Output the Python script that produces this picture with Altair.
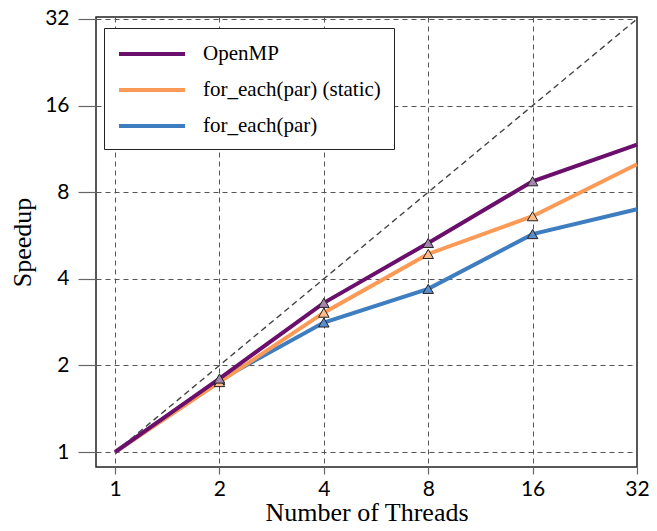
import altair as alt
import pandas as pd

threads = [1, 2, 4, 8, 16, 32]
series_names = ["OpenMP", "for_each(par) (static)", "for_each(par)"]
openmp = [1.0, 1.80, 3.30, 5.33, 8.73, 11.7]
static = [1.0, 1.75, 3.05, 4.88, 6.6, 10.0]
par = [1.0, 1.78, 2.82, 3.69, 5.72, 6.98]
ideal_x = [1, 32]
ideal_y = [1, 32]
tick_values = [1, 2, 4, 8, 16, 32]

line_colors = ["#6a0f6c", "#fb9a56", "#3f7dc1"]
marker_fills = ["#a585ab", "#fbbd8c", "#5b8fcb"]

rows = []
for name, vals in [("for_each(par)", par), ("for_each(par) (static)", static), ("OpenMP", openmp)]:
    for t, v in zip(threads, vals):
        rows.append({"series": name, "threads": t, "speedup": v})
df = pd.DataFrame(rows)
ideal = pd.DataFrame({"threads": ideal_x, "speedup": ideal_y})

xscale = alt.Scale(type="log", base=2, domain=[0.881, 32], nice=False, zero=False)
yscale = alt.Scale(type="log", base=2, domain=[0.887, 32.51], nice=False, zero=False)

xaxis = alt.Axis(values=tick_values, format="d", title="Number of Threads",
                 tickSize=7, labelPadding=4, titlePadding=0,
                 labelFlush=False, labelOverlap=False, labelBound=False)
yaxis = alt.Axis(values=tick_values, format="d", title="Speedup",
                 tickSize=18, labelPadding=9, titlePadding=9,
                 labelFlush=False, labelOverlap=False, labelBound=False)

diag = alt.Chart(ideal).mark_line(color="#444", strokeWidth=1.4, strokeDash=[6, 4]).encode(
    x=alt.X("threads:Q", scale=xscale, axis=xaxis),
    y=alt.Y("speedup:Q", scale=yscale, axis=yaxis),
)

lines = alt.Chart(df).mark_line(strokeWidth=4).encode(
    x=alt.X("threads:Q", scale=xscale),
    y=alt.Y("speedup:Q", scale=yscale),
    color=alt.Color("series:N", scale=alt.Scale(domain=series_names, range=line_colors),
                    legend=alt.Legend(title=None, orient="none", legendX=8, legendY=11,
                                      symbolType="M-3,0H3", symbolStrokeWidth=4, symbolSize=484,
                                      symbolOffset=22,
                                      labelFont="Liberation Serif", labelFontSize=21,
                                      labelColor="black", labelOffset=38, labelLimit=0,
                                      strokeColor="#222", padding=13, rowPadding=13,
                                      fillColor="white")),
)

markers = alt.Chart(df).transform_filter(
    (alt.datum.threads > 1) & (alt.datum.threads < 32)
).mark_point(shape="triangle-up", filled=True, size=110, stroke="#222", strokeWidth=1, opacity=1).encode(
    x=alt.X("threads:Q", scale=xscale),
    y=alt.Y("speedup:Q", scale=yscale),
    fill=alt.Fill("series:N", scale=alt.Scale(domain=series_names, range=marker_fills), legend=None),
)

chart = alt.layer(diag, lines, markers).properties(
    width=541, height=450,
    autosize=alt.AutoSizeParams(type="none"),
    padding={"left": 88, "top": 9, "right": 12, "bottom": 60},
).configure_view(stroke="#222", strokeWidth=1.5).configure_axis(
    grid=True, gridColor="#555", gridDash=[5, 4], gridWidth=1,
    domain=False, tickColor="#666", tickWidth=1.2,
    labelFont="Lato", labelFontSize=21, labelColor="black",
    titleFont="Liberation Serif", titleFontSize=26, titleFontWeight="normal", titleColor="black",
)

chart.save("out.html", embed_options={"renderer": "svg", "actions": False})
